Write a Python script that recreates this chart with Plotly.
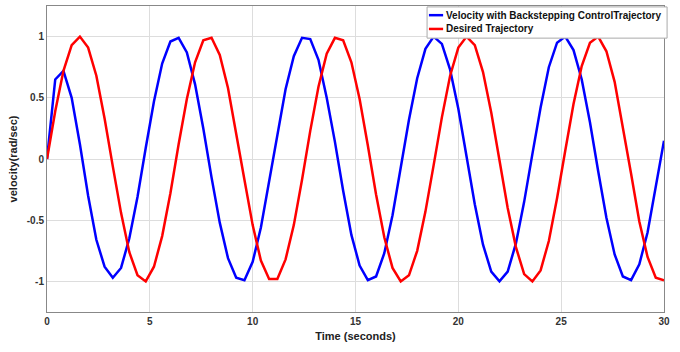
import plotly.graph_objects as go

time_s = [0, 0.4, 0.8, 1.2, 1.6, 2.0, 2.4, 2.8, 3.2, 3.6, 4.0, 4.4, 4.8, 5.2, 5.6, 6.0,
          6.4, 6.8, 7.2, 7.6, 8.0, 8.4, 8.8, 9.2, 9.6, 10.0, 10.4, 10.8, 11.2, 11.6, 12.0,
          12.4, 12.8, 13.2, 13.6, 14.0, 14.4, 14.8, 15.2, 15.6, 16.0, 16.4, 16.8, 17.2,
          17.6, 18.0, 18.4, 18.8, 19.2, 19.6, 20.0, 20.4, 20.8, 21.2, 21.6, 22.0, 22.4,
          22.8, 23.2, 23.6, 24.0, 24.4, 24.8, 25.2, 25.6, 26.0, 26.4, 26.8, 27.2, 27.6,
          28.0, 28.4, 28.8, 29.2, 29.6, 30.0]

velocity_backstepping = [0, 0.65, 0.72, 0.50, 0.12, -0.30, -0.66, -0.88, -0.97, -0.89, -0.65,
                         -0.31, 0.09, 0.47, 0.78, 0.96, 0.99, 0.87, 0.61, 0.25, -0.15, -0.52,
                         -0.81, -0.97, -0.99, -0.84, -0.56, -0.19, 0.20, 0.57, 0.84, 0.99,
                         0.98, 0.81, 0.50, 0.14, -0.26, -0.62, -0.87, -0.99, -0.96, -0.77,
                         -0.46, -0.08, 0.32, 0.66, 0.90, 1.00, 0.94, 0.73, 0.41, 0.02, -0.37,
                         -0.70, -0.92, -1.00, -0.92, -0.69, -0.35, 0.04, 0.42, 0.75, 0.95,
                         1.00, 0.89, 0.65, 0.30, -0.10, -0.48, -0.78, -0.96, -0.99, -0.86,
                         -0.60, -0.24, 0.15]

desired_trajectory = [0, 0.39, 0.72, 0.93, 1.00, 0.91, 0.68, 0.33, -0.06, -0.44, -0.76, -0.95,
                      -1.00, -0.88, -0.63, -0.28, 0.12, 0.49, 0.79, 0.97, 0.99, 0.85, 0.58,
                      0.22, -0.17, -0.54, -0.83, -0.98, -0.98, -0.82, -0.54, -0.17, 0.23,
                      0.59, 0.86, 0.99, 0.97, 0.79, 0.49, 0.11, -0.29, -0.64, -0.89, -1.00,
                      -0.95, -0.75, -0.43, -0.05, 0.34, 0.68, 0.91, 1.00, 0.93, 0.71, 0.38,
                      -0.01, -0.40, -0.72, -0.94, -1.00, -0.91, -0.67, -0.32, 0.07, 0.45,
                      0.76, 0.95, 1.00, 0.88, 0.63, 0.27, -0.12, -0.51, -0.80, -0.97, -0.99]

series_names = ["Velocity with Backstepping ControlTrajectory", "Desired Trajectory"]
series_colors = ["#0000FF", "#FF0000"]

x_ticks = [0, 5, 10, 15, 20, 25, 30]
y_ticks = [-1, -0.5, 0, 0.5, 1]
y_tick_labels = ["-1", "-0.5", "0", "0.5", "1"]

fig = go.Figure()
for name, vals, col in zip(series_names, [velocity_backstepping, desired_trajectory], series_colors):
    fig.add_trace(go.Scatter(x=time_s, y=vals, mode="lines", name=name,
                             line=dict(color=col, width=2.5), showlegend=False))

fam = "Liberation Sans, Arial"
tick_font = dict(family=fam, size=10, color="#333333")

# compact legend box (drawn in paper coordinates)
shapes = [dict(type="rect", xref="paper", yref="paper", x0=0.616, x1=1.005, y0=0.895, y1=0.997,
               fillcolor="white", line=dict(color="#AAAAAA", width=1), layer="above")]
annotations = []
row_y = [0.970, 0.925]
for name, col, yy in zip(series_names, series_colors, row_y):
    shapes.append(dict(type="line", xref="paper", yref="paper", x0=0.619, x1=0.642, y0=yy, y1=yy,
                       line=dict(color=col, width=2.5), layer="above"))
    annotations.append(dict(xref="paper", yref="paper", x=0.643, y=yy, xanchor="left",
                            yanchor="middle", showarrow=False, text="<b>%s</b>" % name,
                            font=dict(family=fam, size=10, color="#111111")))

fig.update_layout(
    width=680, height=352,
    margin=dict(l=47, r=16, t=6, b=40, autoexpand=False),
    paper_bgcolor="white", plot_bgcolor="white",
    font=dict(family=fam, color="#222222"),
    showlegend=False,
    shapes=shapes, annotations=annotations,
    xaxis=dict(range=[0, 30], tickvals=x_ticks, ticktext=["<b>%d</b>" % t for t in x_ticks],
               ticks="", showgrid=True, automargin=False,
               gridcolor="#DDDDDD", gridwidth=1, zeroline=False,
               showline=True, linecolor="#888888", linewidth=1, mirror=True,
               tickfont=tick_font,
               title=dict(text="<b>Time (seconds)</b>", standoff=6,
                          font=dict(family=fam, size=11, color="#222222"))),
    yaxis=dict(range=[-1.25, 1.25], tickvals=y_ticks,
               ticktext=["<b>%s</b>" % t for t in y_tick_labels],
               ticks="", showgrid=True, automargin=False, gridcolor="#DDDDDD", gridwidth=1,
               zeroline=False, showline=True, linecolor="#888888", linewidth=1, mirror=True,
               tickfont=tick_font,
               title=dict(text="<b>velocity(rad/sec)</b>", standoff=6,
                          font=dict(family=fam, size=11, color="#222222"))),
)

fig.write_html("out.html", config={"displayModeBar": False},
               post_script="document.body.style.margin='0';")
